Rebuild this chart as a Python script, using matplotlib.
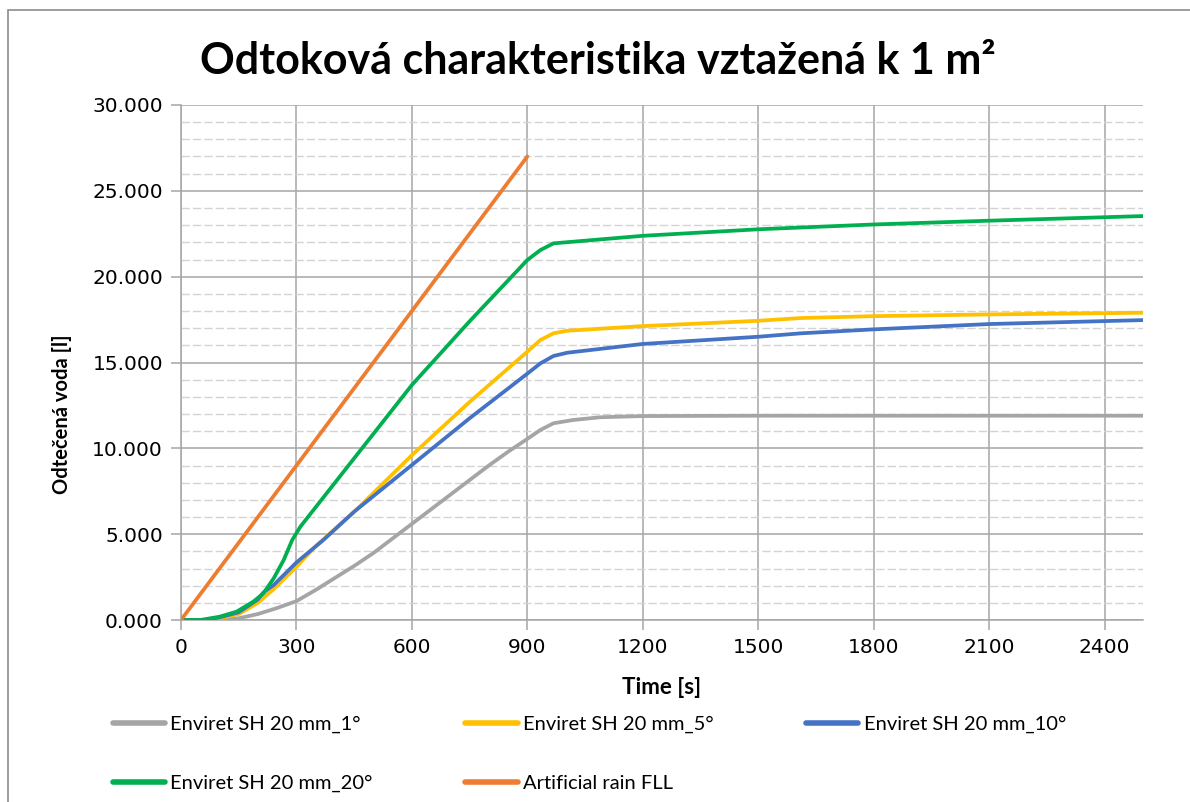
import matplotlib
matplotlib.use("Agg")
import matplotlib.pyplot as plt
from matplotlib.ticker import MultipleLocator, FuncFormatter
from matplotlib.patches import Rectangle

# ---- data (time [s], outflow [l]) ----
t_1 = [0, 100, 150, 200, 250, 300, 350, 400, 450, 500, 600, 700, 750, 800, 850, 900,
       934, 968, 1019, 1089, 1200, 1500, 2500]
v_1 = [0, 0, 0.10, 0.35, 0.70, 1.10, 1.75, 2.45, 3.15, 3.90, 5.60, 7.30, 8.15, 9.00, 9.80,
       10.55, 11.07, 11.46, 11.65, 11.81, 11.88, 11.90, 11.90]

t_5 = [0, 60, 100, 150, 200, 241, 300, 350, 450, 600, 750, 900, 934, 968, 1004, 1200,
       1500, 1611, 1800, 2100, 2500]
v_5 = [0, 0, 0.10, 0.35, 1.00, 1.80, 3.10, 4.30, 6.30, 9.60, 12.70, 15.63, 16.31, 16.70,
       16.85, 17.12, 17.43, 17.59, 17.70, 17.80, 17.90]

t_10 = [0, 60, 100, 150, 200, 214, 241, 300, 370, 450, 600, 750, 900, 934, 968, 1004,
        1200, 1500, 1611, 1800, 2100, 2500]
v_10 = [0, 0, 0.15, 0.45, 1.20, 1.60, 2.04, 3.35, 4.66, 6.31, 9.03, 11.75, 14.35, 14.95,
        15.38, 15.57, 16.08, 16.50, 16.70, 16.93, 17.24, 17.47]

t_20 = [0, 50, 100, 145, 188, 214, 241, 267, 289, 310, 350, 450, 600, 750, 900, 934, 968,
        1200, 1500, 1800, 2100, 2500]
v_20 = [0, 0, 0.19, 0.49, 1.07, 1.55, 2.43, 3.50, 4.66, 5.43, 6.57, 9.42, 13.69, 17.40,
        20.97, 21.55, 21.94, 22.38, 22.76, 23.04, 23.26, 23.53]

t_rain = [0, 900]
v_rain = [0, 27.0]

labels = ["Enviret SH 20 mm_1°", "Enviret SH 20 mm_5°", "Enviret SH 20 mm_10°",
          "Enviret SH 20 mm_20°", "Artificial rain FLL"]
colors = ["#A5A5A5", "#FFC000", "#4472C4", "#00B050", "#ED7D31"]

title = "Odtoková charakteristika vztažená k 1 m²"
xlabel = "Time [s]"
ylabel = "Odtečená voda [l]"

# ---- figure ----
fig = plt.figure(figsize=(11.9, 8.02), dpi=100)
W, H = 1190, 802
ax = fig.add_axes([181 / W, 1 - 620 / H, (1143 - 181) / W, (620 - 105) / H])

series = [(t_1, v_1), (t_5, v_5), (t_10, v_10), (t_20, v_20), (t_rain, v_rain)]
handles = []
for (t, v), lab, c in zip(series, labels, colors):
    h, = ax.plot(t, v, color=c, lw=2.7, label=lab, solid_capstyle="round",
                 solid_joinstyle="round", zorder=3)
    handles.append(h)

ax.set_xlim(0, 2500)
ax.set_ylim(0, 30)
ax.xaxis.set_major_locator(MultipleLocator(300))
ax.yaxis.set_major_locator(MultipleLocator(5))
ax.yaxis.set_minor_locator(MultipleLocator(1))
ax.yaxis.set_major_formatter(FuncFormatter(lambda v, p: f"{v:.3f}"))

ax.grid(True, which="major", axis="both", color="#A6A6A6", lw=1.1, zorder=1)
ax.grid(True, which="minor", axis="y", color="#D3D3D3", lw=1.0,
        linestyle=(0, (6, 2.2)), zorder=0)
for s in ["top", "right"]:
    ax.spines[s].set_visible(False)
for s in ["left", "bottom"]:
    ax.spines[s].set_color("#A6A6A6")
    ax.spines[s].set_linewidth(1.1)
ax.tick_params(axis="both", which="major", length=7, width=1.1, color="#A6A6A6",
               labelsize=14.5, labelcolor="#000000", pad=6)
ax.tick_params(axis="y", which="minor", length=0)
for lab in ax.get_xticklabels() + ax.get_yticklabels():
    lab.set_family("DejaVu Sans")

ax.set_xlabel(xlabel, fontsize=16, fontweight="bold", family="Lato")
ax.xaxis.set_label_coords(0.5, -(688 - 620) / 515, transform=ax.transAxes)
ax.set_ylabel(ylabel, fontsize=14.5, fontweight="bold", family="Lato")
ax.yaxis.set_label_coords((62 - 181) / 962, (620 - 414) / 515, transform=ax.transAxes)
ax.xaxis.label.set_va("center")
ax.yaxis.label.set_va("center")

fig.text(598 / W, 1 - 61 / H, title, ha="center", va="center", fontsize=31,
         fontweight="bold", family="Lato")

# legend: column-major order to get row layout
order = [0, 3, 1, 4, 2]
leg = fig.legend([handles[i] for i in order], [labels[i] for i in order],
                 ncol=3, loc="upper left", bbox_to_anchor=(105 / W, 1 - 708 / H),
                 frameon=False, prop={"family": "Lato", "size": 14.5},
                 handlelength=2.6, handletextpad=0.25, columnspacing=4.6,
                 labelspacing=2.05, borderaxespad=0)
for lh in leg.get_lines():
    lh.set_linewidth(4)

# chart area border
fig.patches.append(Rectangle((8 / W, -0.1), 1.2, 1 - 10 / H + 0.1, transform=fig.transFigure,
                             fill=False, edgecolor="#8C8C8C", lw=1.2, zorder=0))

fig.savefig("out.png", dpi=100)
